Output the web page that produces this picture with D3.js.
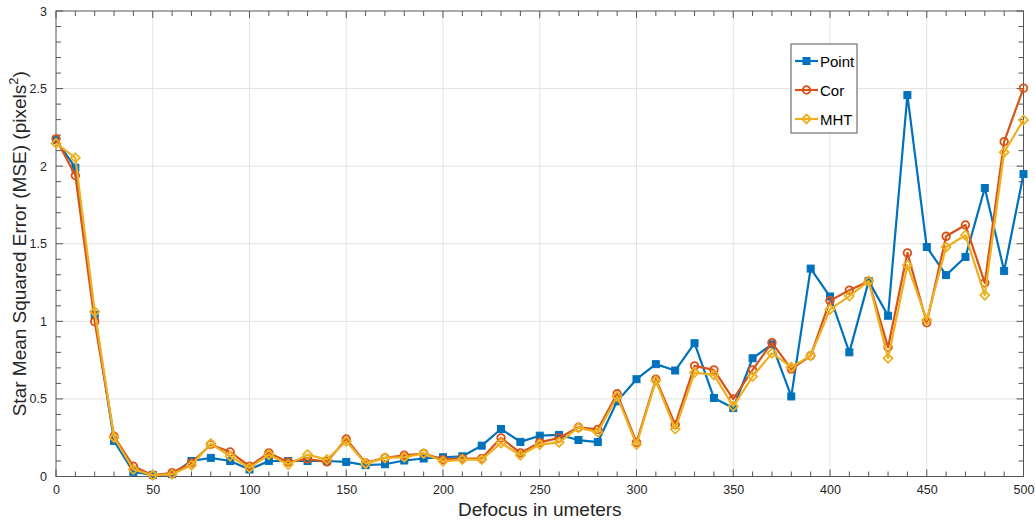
<!DOCTYPE html>
<html>
<head>
<meta charset="utf-8">
<script src="https://cdn.jsdelivr.net/npm/d3@7"></script>
<style>
  html, body { margin: 0; padding: 0; background: #fff; }
  svg { display: block; font-family: "Liberation Sans", Arial, Helvetica, sans-serif; }
</style>
</head>
<body>
<svg id="chart" width="1035" height="523"></svg>
<script>
// Defocus positions (micrometers)
const defocus = d3.range(0, 501, 10);

// Mean squared error for each estimator
const pointMSE = [2.17, 1.99, 1.04, 0.23, 0.03, 0.01, 0.015, 0.10, 0.12, 0.10,
  0.045, 0.10, 0.10, 0.10, 0.10, 0.094, 0.073, 0.079, 0.103, 0.116,
  0.124, 0.13, 0.199, 0.306, 0.223, 0.263, 0.268, 0.235, 0.222, 0.484,
  0.627, 0.724, 0.683, 0.859, 0.506, 0.441, 0.762, 0.852, 0.516, 1.34,
  1.16, 0.80, 1.259, 1.036, 2.458, 1.479, 1.298, 1.415, 1.859, 1.325, 1.949];

const corMSE = [2.176, 1.94, 0.998, 0.259, 0.066, 0.008, 0.024, 0.088, 0.206, 0.158,
  0.066, 0.152, 0.094, 0.113, 0.094, 0.242, 0.088, 0.12, 0.137, 0.148,
  0.109, 0.116, 0.116, 0.249, 0.152, 0.22, 0.249, 0.317, 0.304, 0.533,
  0.22, 0.627, 0.334, 0.713, 0.687, 0.499, 0.687, 0.863, 0.692, 0.778,
  1.133, 1.201, 1.259, 0.833, 1.441, 0.991, 1.548, 1.621, 1.248, 2.158, 2.503];

const mhtMSE = [2.148, 2.054, 1.062, 0.252, 0.045, 0.008, 0.015, 0.073, 0.212, 0.13,
  0.056, 0.141, 0.077, 0.141, 0.109, 0.227, 0.083, 0.12, 0.124, 0.148,
  0.098, 0.109, 0.109, 0.216, 0.137, 0.206, 0.22, 0.315, 0.285, 0.516,
  0.206, 0.617, 0.306, 0.67, 0.655, 0.452, 0.644, 0.795, 0.705, 0.778,
  1.077, 1.163, 1.259, 0.762, 1.362, 1.009, 1.479, 1.555, 1.169, 2.09, 2.298];

const seriesNames = ["Point", "Cor", "MHT"];
const seriesColors = ["#0072BD", "#D95319", "#EDB120"];
const seriesMarkers = ["square", "circle", "diamond"];

const xTicks = [0, 50, 100, 150, 200, 250, 300, 350, 400, 450, 500];
const yTicks = [0, 0.5, 1, 1.5, 2, 2.5, 3];

const series = [pointMSE, corMSE, mhtMSE].map((vals, i) => ({
  name: seriesNames[i], color: seriesColors[i], marker: seriesMarkers[i],
  values: vals.map((v, j) => ({ x: defocus[j], y: v }))
}));

const svg = d3.select("#chart");
const plot = { left: 56, right: 1023.5, top: 11, bottom: 476.5 };

const x = d3.scaleLinear().domain([0, 500]).range([plot.left, plot.right]);
const y = d3.scaleLinear().domain([0, 3]).range([plot.bottom, plot.top]);

const axisColor = "#262626";
const tickColor = "#555";

// Grid lines at major ticks
const grid = svg.append("g");
grid.selectAll("line.gx").data(xTicks.slice(1, -1)).join("line")
  .attr("x1", d => x(d)).attr("x2", d => x(d))
  .attr("y1", plot.top).attr("y2", plot.bottom)
  .attr("stroke", "#e3e3e3").attr("stroke-width", 1);
grid.selectAll("line.gy").data(yTicks.slice(1, -1)).join("line")
  .attr("y1", d => y(d)).attr("y2", d => y(d))
  .attr("x1", plot.left).attr("x2", plot.right)
  .attr("stroke", "#e3e3e3").attr("stroke-width", 1);

// Inward ticks on all four sides: major + minor
const minorX = d3.range(0, 501, 10);
const minorY = d3.range(0, 3.001, 0.1);
const ticks = svg.append("g").attr("stroke", tickColor).attr("stroke-width", 1);
function tickSet(vals, len, fn) {
  vals.forEach(v => fn(v, len));
}
const isMajorX = v => Math.abs(v % 50) < 1e-6;
const isMajorY = v => Math.abs(Math.round(v * 2) - v * 2) < 1e-6;
minorX.forEach(v => {
  const len = isMajorX(v) ? 7 : 5;
  ticks.append("line").attr("x1", x(v)).attr("x2", x(v)).attr("y1", plot.bottom).attr("y2", plot.bottom - len);
  ticks.append("line").attr("x1", x(v)).attr("x2", x(v)).attr("y1", plot.top).attr("y2", plot.top + len);
});
minorY.forEach(v => {
  const len = isMajorY(v) ? 7 : 5;
  ticks.append("line").attr("y1", y(v)).attr("y2", y(v)).attr("x1", plot.left).attr("x2", plot.left + len);
  ticks.append("line").attr("y1", y(v)).attr("y2", y(v)).attr("x1", plot.right).attr("x2", plot.right - len);
});

// Axes (labels only, frame drawn separately)
const xAxis = d3.axisBottom(x).tickValues(xTicks).tickFormat(d3.format("d")).tickSize(0).tickPadding(9);
const yAxis = d3.axisLeft(y).tickValues(yTicks).tickFormat(d => String(d)).tickSize(0).tickPadding(9);
const gx = svg.append("g").attr("transform", `translate(0,${plot.bottom})`).call(xAxis);
const gy = svg.append("g").attr("transform", `translate(${plot.left},0)`).call(yAxis);
[gx, gy].forEach(g => {
  g.select(".domain").remove();
  g.selectAll("text").attr("fill", axisColor).style("font-size", "12.5px")
    .style("font-family", "'Liberation Sans', Arial, sans-serif");
});

// Frame
svg.append("rect")
  .attr("x", plot.left).attr("y", plot.top)
  .attr("width", plot.right - plot.left).attr("height", plot.bottom - plot.top)
  .attr("fill", "none").attr("stroke", tickColor).attr("stroke-width", 1);

// Marker drawing helper
function drawMarker(sel, kind, color) {
  if (kind === "square") {
    sel.append("rect").attr("x", -3.5).attr("y", -3.5).attr("width", 7).attr("height", 7)
      .attr("fill", color).attr("stroke", color).attr("stroke-width", 1);
  } else if (kind === "circle") {
    sel.append("circle").attr("r", 3.8)
      .attr("fill", "none").attr("stroke", color).attr("stroke-width", 1.8);
  } else {
    sel.append("path").attr("d", "M0,-4.5L4.5,0L0,4.5L-4.5,0Z")
      .attr("fill", "none").attr("stroke", color).attr("stroke-width", 1.8);
  }
}

const line = d3.line().x(d => x(d.x)).y(d => y(d.y));

series.forEach(s => {
  const g = svg.append("g");
  g.append("path").datum(s.values)
    .attr("d", line).attr("fill", "none")
    .attr("stroke", s.color).attr("stroke-width", 2.2).attr("stroke-linejoin", "round");
  g.selectAll("g.m").data(s.values).join("g")
    .attr("transform", d => `translate(${x(d.x)},${y(d.y)})`)
    .each(function () { drawMarker(d3.select(this), s.marker, s.color); });
});

// Axis titles
svg.append("text")
  .attr("x", (plot.left + plot.right) / 2).attr("y", 516)
  .attr("text-anchor", "middle").attr("fill", axisColor)
  .style("font-size", "19px")
  .text("Defocus in umeters");

const yTitle = svg.append("text")
  .attr("transform", `translate(26,${(plot.top + plot.bottom) / 2}) rotate(-90)`)
  .attr("text-anchor", "middle").attr("fill", axisColor)
  .style("font-size", "19px");
yTitle.append("tspan").text("Star Mean Squared Error (MSE) (pixels");
yTitle.append("tspan").attr("dy", -8).style("font-size", "13px").text("2");
yTitle.append("tspan").attr("dy", 8).text(")");

// Legend
const legend = svg.append("g").attr("transform", "translate(791,44)");
legend.append("rect").attr("width", 66).attr("height", 89)
  .attr("fill", "#fff").attr("stroke", "#555").attr("stroke-width", 1);
series.forEach((s, i) => {
  const row = legend.append("g").attr("transform", `translate(0,${17 + i * 29})`);
  row.append("line").attr("x1", 4).attr("x2", 27).attr("y1", 0).attr("y2", 0)
    .attr("stroke", s.color).attr("stroke-width", 2.2);
  const m = row.append("g").attr("transform", "translate(15.5,0)");
  drawMarker(m, s.marker, s.color);
  row.append("text").attr("x", 29).attr("y", 5.5)
    .attr("fill", "#000").style("font-size", "15px").text(s.name);
});
</script>
</body>
</html>
